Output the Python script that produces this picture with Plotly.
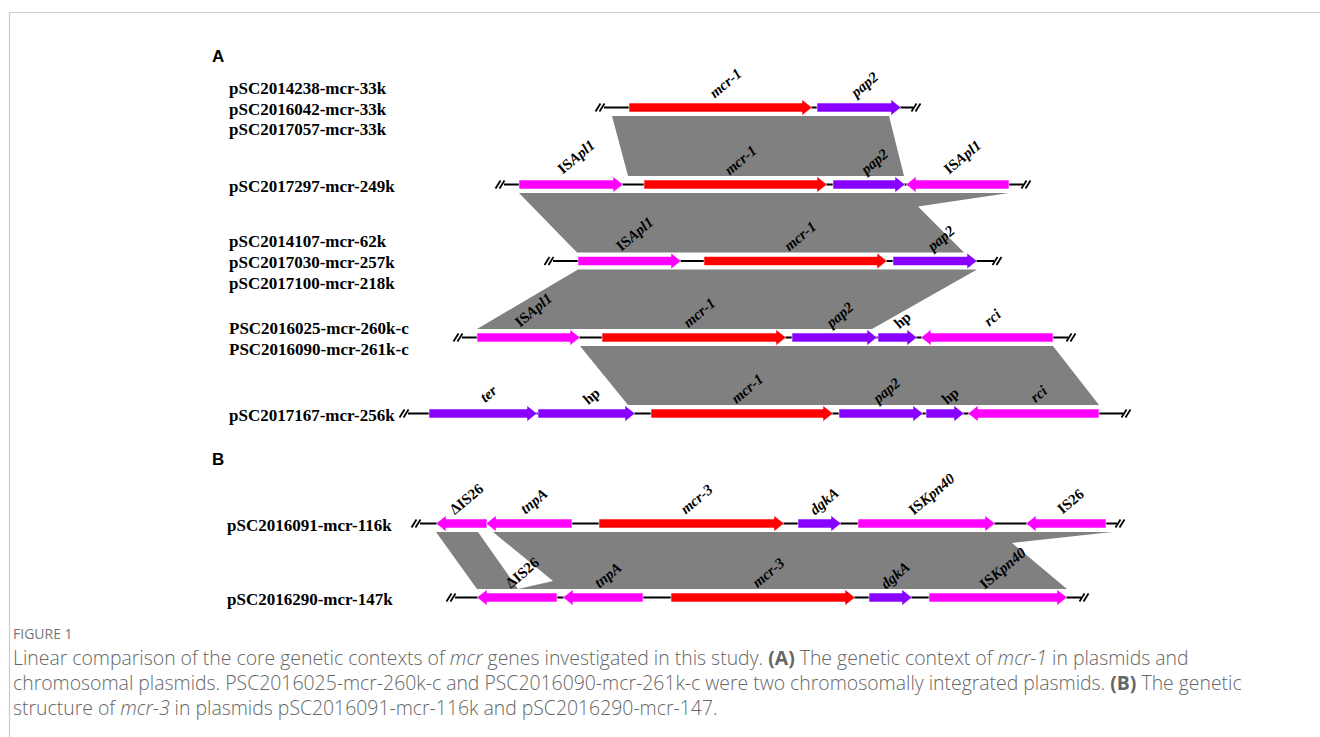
import math
import re
import plotly.graph_objects as go

# ---------------- data ----------------
row_y = [107.5, 184.5, 261, 337.5, 413.5, 523.5, 597.5]
row_panel = ["A", "A", "A", "A", "A", "B", "B"]
row_labels = [
    ["pSC2014238-mcr-33k", "pSC2016042-mcr-33k", "pSC2017057-mcr-33k"],
    ["pSC2017297-mcr-249k"],
    ["pSC2014107-mcr-62k", "pSC2017030-mcr-257k", "pSC2017100-mcr-218k"],
    ["PSC2016025-mcr-260k-c", "PSC2016090-mcr-261k-c"],
    ["pSC2017167-mcr-256k"],
    ["pSC2016091-mcr-116k"],
    ["pSC2016290-mcr-147k"],
]
backbone_start = [604, 504, 553, 462, 408, 420, 455]
backbone_end = [913, 1023, 994, 1068, 1123, 1117, 1081]

# genes: (label, start, end, strand, kind)
genes_row1 = [("<i>mcr-1</i>", 629, 812, 1, "mcr"), ("<i>pap2</i>", 817, 901, 1, "cds")]
genes_row2 = [("IS<i>Apl1</i>", 519, 623, 1, "is"), ("<i>mcr-1</i>", 644, 827, 1, "mcr"),
              ("<i>pap2</i>", 833, 905, 1, "cds"), ("IS<i>Apl1</i>", 906, 1009, -1, "is")]
genes_row3 = [("IS<i>Apl1</i>", 578, 681, 1, "is"), ("<i>mcr-1</i>", 704, 887, 1, "mcr"),
              ("<i>pap2</i>", 893, 977, 1, "cds")]
genes_row4 = [("IS<i>Apl1</i>", 477, 580, 1, "is"), ("<i>mcr-1</i>", 602, 786, 1, "mcr"),
              ("<i>pap2</i>", 792, 877, 1, "cds"), ("hp", 878, 917, 1, "cds"),
              ("<i>rci</i>", 921, 1053, -1, "is")]
genes_row5 = [("<i>ter</i>", 429, 537, 1, "cds"), ("hp", 538, 635, 1, "cds"),
              ("<i>mcr-1</i>", 651, 833, 1, "mcr"), ("<i>pap2</i>", 839, 923, 1, "cds"),
              ("hp", 926, 964, 1, "cds"), ("<i>rci</i>", 968, 1099, -1, "is")]
genes_row6 = [("ΔIS26", 436, 487, -1, "is"), ("<i>tnpA</i>", 486, 572, -1, "is"),
              ("<i>mcr-3</i>", 599, 784, 1, "mcr"), ("<i>dgkA</i>", 798, 841, 1, "cds"),
              ("IS<i>Kpn40</i>", 858, 995, 1, "is"), ("IS26", 1026, 1106, -1, "is")]
genes_row7 = [("ΔIS26", 477, 557, -1, "is"), ("<i>tnpA</i>", 563, 643, -1, "is"),
              ("<i>mcr-3</i>", 671, 855, 1, "mcr"), ("<i>dgkA</i>", 869, 912, 1, "cds"),
              ("IS<i>Kpn40</i>", 929, 1067, 1, "is")]
genes = [genes_row1, genes_row2, genes_row3, genes_row4, genes_row5, genes_row6, genes_row7]

# homology blocks: vertices (x, y)
band1 = [(612, 116), (889, 116), (904, 176), (628, 176)]
band2 = [(519, 193), (1009, 193), (918, 206.5), (964, 252.5), (577, 252.5)]
band3 = [(578, 269.5), (977, 269.5), (872, 329), (477, 329)]
band4 = [(580, 346), (1053, 346), (1099, 405), (628, 405)]
band5 = [(436, 532), (478, 532), (518, 589), (477, 589)]
band6 = [(493, 532), (1112, 532), (1012, 543), (1067, 589), (518, 589), (553, 581)]
bands = [band1, band2, band3, band4, band5, band6]

caption_head = "FIGURE 1"
caption_lines = [
    "Linear comparison of the core genetic contexts of <i>mcr</i> genes investigated in this study. "
    "<b>(A)</b> The genetic context of <i>mcr-1</i> in plasmids and",
    "chromosomal plasmids. PSC2016025-mcr-260k-c and PSC2016090-mcr-261k-c were two chromosomally "
    "integrated plasmids. <b>(B)</b> The genetic",
    "structure of <i>mcr-3</i> in plasmids pSC2016091-mcr-116k and pSC2016290-mcr-147.",
]

# ---------------- styles ----------------
W, H = 1320, 737
colors = {"mcr": "#FF0000", "cds": "#8800FF", "is": "#FF00FF"}
band_color = "#808080"
serif = "Liberation Serif, Times New Roman, serif"
sans = "Liberation Sans, Arial, sans-serif"
cap_font = "Open Sans, Noto Sans, sans-serif"
BODY = 4.5
HEAD = 8.0
HEADLEN = 10.0
LBL_SIZE = 15
ANG = 40

fig = go.Figure()

# bands
for b in bands:
    xs = [p[0] for p in b] + [b[0][0]]
    ys = [p[1] for p in b] + [b[0][1]]
    fig.add_trace(go.Scatter(x=xs, y=ys, mode="lines", fill="toself", fillcolor=band_color,
                             line=dict(width=0, color=band_color), hoverinfo="skip", showlegend=False))

annotations = []

def slash_mark(cx, y):
    xs, ys = [], []
    for off in (-2.5, 1.5):
        xs += [cx + off - 2.5, cx + off + 2.5, None]
        ys += [y + 4, y - 4, None]
    return xs, ys

for i, y in enumerate(row_y):
    # backbone
    fig.add_trace(go.Scatter(x=[backbone_start[i], backbone_end[i]], y=[y, y], mode="lines",
                             line=dict(color="black", width=2), hoverinfo="skip", showlegend=False))
    sx, sy = [], []
    for cx in (backbone_start[i] - 3.5, backbone_end[i] + 3.5):
        a, b = slash_mark(cx, y)
        sx += a
        sy += b
    fig.add_trace(go.Scatter(x=sx, y=sy, mode="lines", line=dict(color="black", width=1.8),
                             hoverinfo="skip", showlegend=False))
    # genes
    for (lab, s, e, strand, kind) in genes[i]:
        if strand > 0:
            hb = e - HEADLEN
            xs = [s, hb, hb, e, hb, hb, s, s]
        else:
            hb = s + HEADLEN
            xs = [e, hb, hb, s, hb, hb, e, e]
        ys = [y - BODY, y - BODY, y - HEAD, y, y + HEAD, y + BODY, y + BODY, y - BODY]
        fig.add_trace(go.Scatter(x=xs, y=ys, mode="lines", fill="toself", fillcolor=colors[kind],
                                 line=dict(width=1, color="rgba(255,255,255,0.55)"),
                                 hoverinfo="skip", showlegend=False))
        plain = re.sub(r"<[^>]+>", "", lab)
        w = len(plain) * 0.5 * LBL_SIZE
        half_y = (w * math.sin(math.radians(ANG)) + 0.8 * LBL_SIZE * math.cos(math.radians(ANG))) / 2
        annotations.append(dict(x=(s + e) / 2 + 5, y=y - 8 - half_y, xref="x", yref="y",
                                text="<b>" + lab + "</b>", showarrow=False, textangle=-ANG,
                                xanchor="center", yanchor="middle",
                                font=dict(family=serif, size=LBL_SIZE, color="black")))
    # row labels
    n = len(row_labels[i])
    lx = 227 if row_panel[i] == "A" else 225
    for k, t in enumerate(row_labels[i]):
        ly = y + 1.5 + (k - (n - 1) / 2) * 20.7
        annotations.append(dict(x=lx, y=ly, xref="x", yref="y", text="<b>" + t + "</b>",
                                showarrow=False, xanchor="left", yanchor="middle",
                                font=dict(family=serif, size=17, color="black")))

# panel letters
annotations.append(dict(x=210, y=56, xref="x", yref="y", text="<b>A</b>", showarrow=False,
                        xanchor="left", yanchor="middle", font=dict(family=sans, size=17, color="black")))
annotations.append(dict(x=210, y=459, xref="x", yref="y", text="<b>B</b>", showarrow=False,
                        xanchor="left", yanchor="middle", font=dict(family=sans, size=17, color="black")))

# caption
annotations.append(dict(x=11, y=633, xref="x", yref="y", text=caption_head, showarrow=False,
                        xanchor="left", yanchor="middle", font=dict(family=cap_font, size=14, color="#777777")))
annotations.append(dict(x=11, y=682.5, xref="x", yref="y", text="<br>".join(caption_lines),
                        showarrow=False, xanchor="left", yanchor="middle", align="left",
                        font=dict(family=cap_font, size=19.4, color="#666666", weight=300)))

shapes = [
    dict(type="line", xref="x", yref="y", x0=9, x1=W, y0=12.5, y1=12.5, line=dict(color="#cccccc", width=1.2)),
    dict(type="line", xref="x", yref="y", x0=9.5, x1=9.5, y0=12, y1=H, line=dict(color="#cccccc", width=1.2)),
]

fig.update_layout(
    width=W, height=H, autosize=False,
    margin=dict(l=0, r=0, t=0, b=0),
    paper_bgcolor="white", plot_bgcolor="white",
    xaxis=dict(range=[0, W], visible=False, fixedrange=True),
    yaxis=dict(range=[H, 0], visible=False, fixedrange=True),
    annotations=annotations, shapes=shapes, showlegend=False,
)

fig.write_html("out.html", config={"displayModeBar": False},
               post_script="document.body.style.margin='0';document.body.style.overflow='hidden';")
